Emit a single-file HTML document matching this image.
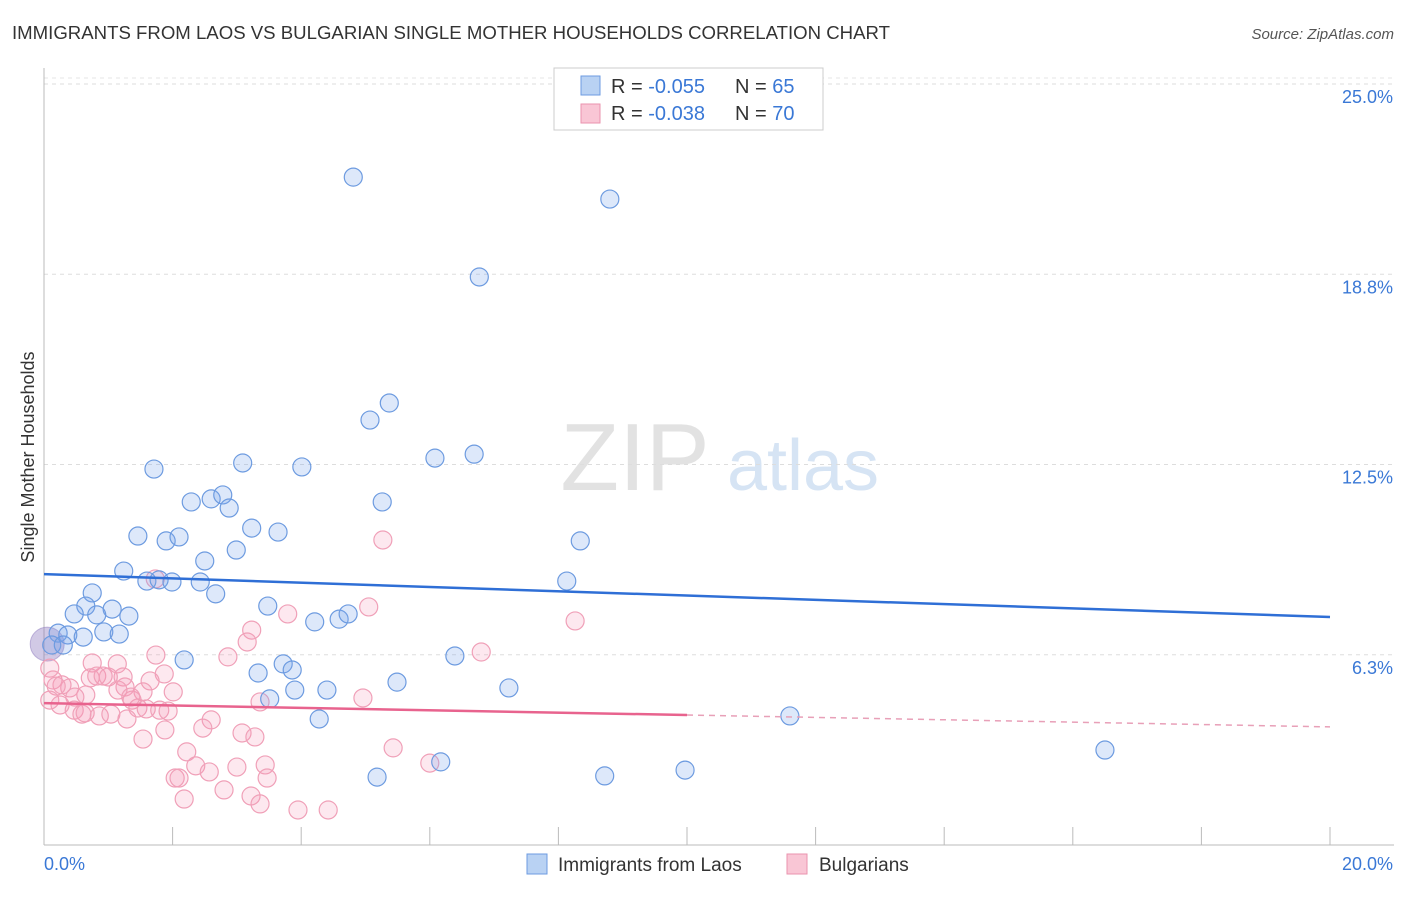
<!DOCTYPE html>
<html><head><meta charset="utf-8">
<style>
body{margin:0;background:#fff;font-family:"Liberation Sans",sans-serif;}
svg text{font-family:"Liberation Sans",sans-serif;}
</style></head>
<body>
<svg id="chart" width="1406" height="892" viewBox="0 0 1406 892" xmlns="http://www.w3.org/2000/svg">
<text x="12" y="39" font-size="18" fill="#333" textLength="878" lengthAdjust="spacingAndGlyphs">IMMIGRANTS FROM LAOS VS BULGARIAN SINGLE MOTHER HOUSEHOLDS CORRELATION CHART</text>
<text x="1394" y="39" font-size="15" fill="#555" font-style="italic" text-anchor="end">Source: ZipAtlas.com</text>
<g>
<text x="635" y="490" font-size="96" fill="#e2e2e2" font-family="Liberation Serif" text-anchor="middle">ZIP</text>
<text x="803" y="490" font-size="72" fill="#d6e4f4" text-anchor="middle">atlas</text>
</g>
<g id="grid"></g>
<g id="axes"></g>
<g id="points"></g>
<g id="trends"></g>
<text transform="translate(34,457) rotate(-90)" font-size="18" fill="#333" text-anchor="middle">Single Mother Households</text>
<g>
<rect x="554" y="68" width="269" height="62" fill="#fff" stroke="#ccc"/>
<rect x="581" y="76" width="19" height="19" fill="#b9d2f3" stroke="#6d9be0"/>
<rect x="581" y="104" width="19" height="19" fill="#f9c6d5" stroke="#ea93ae"/>
<text x="611" y="93" font-size="20" fill="#333">R = <tspan fill="#3a78d6">-0.055</tspan></text>
<text x="735" y="93" font-size="20" fill="#333">N = <tspan fill="#3a78d6">65</tspan></text>
<text x="611" y="120" font-size="20" fill="#333">R = <tspan fill="#3a78d6">-0.038</tspan></text>
<text x="735" y="120" font-size="20" fill="#333">N = <tspan fill="#3a78d6">70</tspan></text>
</g>
<g>
<rect x="527" y="854" width="20" height="20" fill="#b9d2f3" stroke="#6d9be0"/>
<text x="558" y="871" font-size="19" fill="#333">Immigrants from Laos</text>
<rect x="787" y="854" width="20" height="20" fill="#f9c6d5" stroke="#ea93ae"/>
<text x="819" y="871" font-size="19" fill="#333">Bulgarians</text>
</g>
</svg>
<script>
const yTicks=[6.25,12.5,18.75,25];
const yTickLabels=["6.3%","12.5%","18.8%","25.0%"];
const xTickCount=10;
const xLabels=["0.0%","20.0%"];
const laosX=[4.81,8.80,6.77,5.37,5.07,1.71,3.09,4.01,6.08,6.69,2.29,2.60,2.78,2.88,5.26,1.46,1.90,2.10,3.23,3.64,2.99,2.50,8.34,1.24,1.60,1.79,1.99,2.43,2.67,8.13,0.75,0.65,0.47,1.06,0.82,1.32,3.48,4.21,4.59,4.73,0.93,1.17,0.22,0.37,0.61,0.12,0.30,2.18,3.72,3.86,6.39,3.33,3.90,4.40,5.49,7.23,3.51,4.28,11.60,16.50,5.18,6.17,8.72,9.97];
const laosY=[21.94,21.22,18.66,14.52,13.96,12.35,12.55,12.42,12.71,12.84,11.27,11.37,11.50,11.07,11.27,10.15,9.99,10.12,10.41,10.28,9.69,9.33,9.99,9.00,8.67,8.71,8.64,8.64,8.25,8.67,8.28,7.85,7.59,7.75,7.56,7.52,7.85,7.33,7.42,7.59,7.00,6.93,6.96,6.90,6.83,6.57,6.57,6.08,5.95,5.75,6.21,5.65,5.09,5.09,5.35,5.16,4.80,4.14,4.24,3.12,2.23,2.73,2.27,2.46];
const bulX=[5.27,1.73,3.79,5.05,8.26,6.80,3.23,3.16,1.74,2.86,0.75,1.14,1.87,0.09,0.14,0.28,0.40,0.72,0.82,0.92,1.23,1.00,1.65,1.26,1.15,1.54,2.01,0.65,0.48,0.19,1.37,1.46,1.35,1.59,1.80,1.93,3.36,4.96,0.47,0.64,0.86,0.59,1.04,1.29,2.60,2.47,1.88,1.54,3.08,3.28,5.43,2.22,3.00,3.44,2.36,2.57,2.04,2.10,3.47,6.00,2.80,3.22,2.18,3.36,3.95,4.42,0.09,0.25];
const bulY=[10.02,8.74,7.59,7.82,7.36,6.34,7.06,6.67,6.24,6.18,5.98,5.95,5.62,5.81,5.42,5.26,5.16,5.49,5.55,5.55,5.52,5.52,5.39,5.19,5.09,5.03,5.03,4.93,4.86,5.22,4.76,4.50,4.86,4.47,4.43,4.40,4.70,4.83,4.43,4.34,4.24,4.30,4.30,4.14,4.11,3.84,3.78,3.48,3.68,3.55,3.19,3.06,2.56,2.63,2.60,2.40,2.20,2.20,2.20,2.69,1.81,1.61,1.51,1.35,1.15,1.15,4.76,4.60];
const bigPoint=[0.05,6.6];
const laosTrend=[8.90,7.49];
const bulTrend=[4.66,3.88];
const bulSolidEnd=10;

const X0=44,X1=1330,Y0=845,YTOP=84;
const sx=v=>X0+(v/20)*(X1-X0);
const sy=v=>Y0-(v/25)*(Y0-YTOP);
const NS="http://www.w3.org/2000/svg";
function mk(tag,attrs,parent){const e=document.createElementNS(NS,tag);for(const k in attrs)e.setAttribute(k,attrs[k]);parent.appendChild(e);return e;}
const grid=document.getElementById('grid'),axes=document.getElementById('axes'),pts=document.getElementById('points'),tr=document.getElementById('trends');
yTicks.forEach((t,i)=>{
 const l=mk('line',{x1:X0,x2:1394,y1:sy(t),y2:sy(t),stroke:'#ddd','stroke-dasharray':'4,4'},grid);
 
 
 const tx=mk('text',{x:1393,y:sy(t)+19,'font-size':18,fill:'#3a78d6','text-anchor':'end'},axes);
 tx.textContent=yTickLabels[i];
 
 
});
const topLine=mk('line',{x1:X0,x2:1394,y1:78,y2:78,stroke:'#e4e4e4','stroke-dasharray':'4,4'},grid);


const ya=mk('line',{x1:X0,x2:X0,y1:68,y2:Y0,stroke:'#bbb'},axes);


const xa=mk('line',{x1:X0,x2:1394,y1:Y0,y2:Y0,stroke:'#bbb'},axes);


for(let i=0;i<=xTickCount;i++){
 const x=sx(i*20/xTickCount);
 const t=mk('line',{x1:x,x2:x,y1:Y0-18,y2:Y0,stroke:'#bbb'},axes);
 
 
}
const xl0=mk('text',{x:44,y:870,'font-size':18,fill:'#3a78d6'},axes);xl0.textContent=xLabels[0];


const xl1=mk('text',{x:1393,y:870,'font-size':18,fill:'#3a78d6','text-anchor':'end'},axes);xl1.textContent=xLabels[1];



const bb=mk('circle',{cx:sx(bigPoint[0]),cy:sy(bigPoint[1]),r:17,fill:'rgba(140,120,190,0.4)',stroke:'rgba(140,120,190,0.5)'},pts);


bulX.forEach((v,i)=>{
 const c=mk('circle',{cx:sx(v),cy:sy(bulY[i]),r:9,fill:'rgba(245,150,180,0.22)',stroke:'#f0a0b8','stroke-width':1.2},pts);
 
 
});
laosX.forEach((v,i)=>{
 const c=mk('circle',{cx:sx(v),cy:sy(laosY[i]),r:9,fill:'rgba(120,165,235,0.25)',stroke:'#6d9be0','stroke-width':1.2},pts);
 
 
});
const lt=mk('line',{x1:sx(0),y1:sy(laosTrend[0]),x2:sx(20),y2:sy(laosTrend[1]),stroke:'#2f6fd6','stroke-width':2.5},tr);


const bm=bulTrend[0]+(bulTrend[1]-bulTrend[0])*bulSolidEnd/20;
const bt=mk('line',{x1:sx(0),y1:sy(bulTrend[0]),x2:sx(bulSolidEnd),y2:sy(bm),stroke:'#e8638e','stroke-width':2.5},tr);


const bd=mk('line',{x1:sx(bulSolidEnd),y1:sy(bm),x2:sx(20),y2:sy(bulTrend[1]),stroke:'#e8a0b8','stroke-width':1.5,'stroke-dasharray':'6,5'},tr);


</script>
</body></html>
